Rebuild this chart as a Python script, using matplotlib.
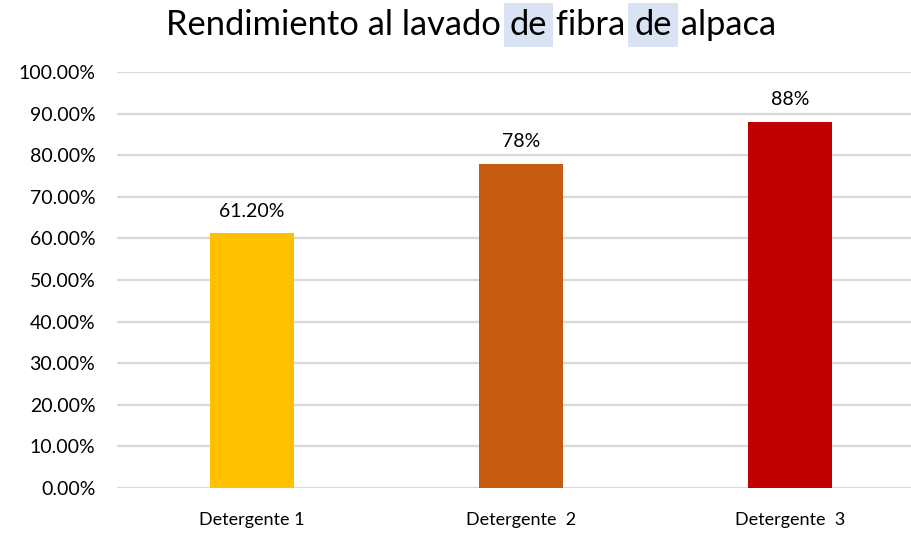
import matplotlib
matplotlib.use("Agg")
import matplotlib.pyplot as plt
from matplotlib.ticker import FuncFormatter, MultipleLocator

categories = ["Detergente 1", "Detergente  2", "Detergente  3"]
values = [0.612, 0.78, 0.88]
value_labels = ["61.20%", "78%", "88%"]
colors = ["#FFC000", "#C55A11", "#C00000"]
title_parts = ["Rendimiento al lavado ", "de", " fibra ", "de", " alpaca"]
title_highlight = [False, True, False, True, False]

plt.rcParams['font.family'] = ['Lato', 'DejaVu Sans']

W, H = 912, 533
fig = plt.figure(figsize=(W / 100, H / 100), dpi=100)
left_px, right_px, top_px, bot_px = 117.5, 912, 72, 488
ax = fig.add_axes([left_px / W, 1 - bot_px / H, (right_px - left_px) / W, (bot_px - top_px) / H])

x = list(range(len(categories)))
bars = ax.bar(x, values, width=0.312, color=colors, zorder=3)
ax.set_xlim(-0.5, -0.5 + (right_px - left_px) / 269)
ax.set_ylim(0, 1.0)
ax.yaxis.set_major_locator(MultipleLocator(0.1))
ax.yaxis.set_major_formatter(FuncFormatter(lambda v, p: f"{v*100:.2f}%"))
ax.grid(axis='y', color='#D9D9D9', linewidth=1.6, zorder=0)
ax.set_axisbelow(True)
for s in ax.spines.values():
    s.set_visible(False)
ax.tick_params(axis='both', length=0, colors='#000000')
ax.tick_params(axis='y', pad=16, labelsize=14)
ax.tick_params(axis='x', pad=17, labelsize=13)
ax.set_xticks(x)
ax.set_xticklabels(categories)

for b, lab in zip(bars, value_labels):
    ax.annotate(lab, (b.get_x() + b.get_width() / 2, b.get_height()),
                xytext=(0, 10), textcoords='offset points', ha='center', va='bottom',
                fontsize=14, color='#000000')

# Title with highlighted words
fig.canvas.draw()
renderer = fig.canvas.get_renderer()
fs = 24.8
full = fig.text(0, 0, "".join(title_parts), fontsize=fs)
total = full.get_window_extent(renderer).width
full.remove()
cx = 471
xpos = cx - total / 2
y_base = H - 25
acc = ""
for part, hl in zip(title_parts, title_highlight):
    off = 0
    if acc:
        t0 = fig.text(0, 0, acc, fontsize=fs)
        off = t0.get_window_extent(renderer).width
        t0.remove()
    kw = {}
    if hl:
        kw['bbox'] = dict(boxstyle='square,pad=0.18', facecolor='#DAE3F3', edgecolor='none')
    fig.text((xpos + off) / W, y_base / H, part, fontsize=fs, ha='left', va='center',
             color='#000000', **kw)
    acc += part

fig.savefig("out.png", dpi=100)
